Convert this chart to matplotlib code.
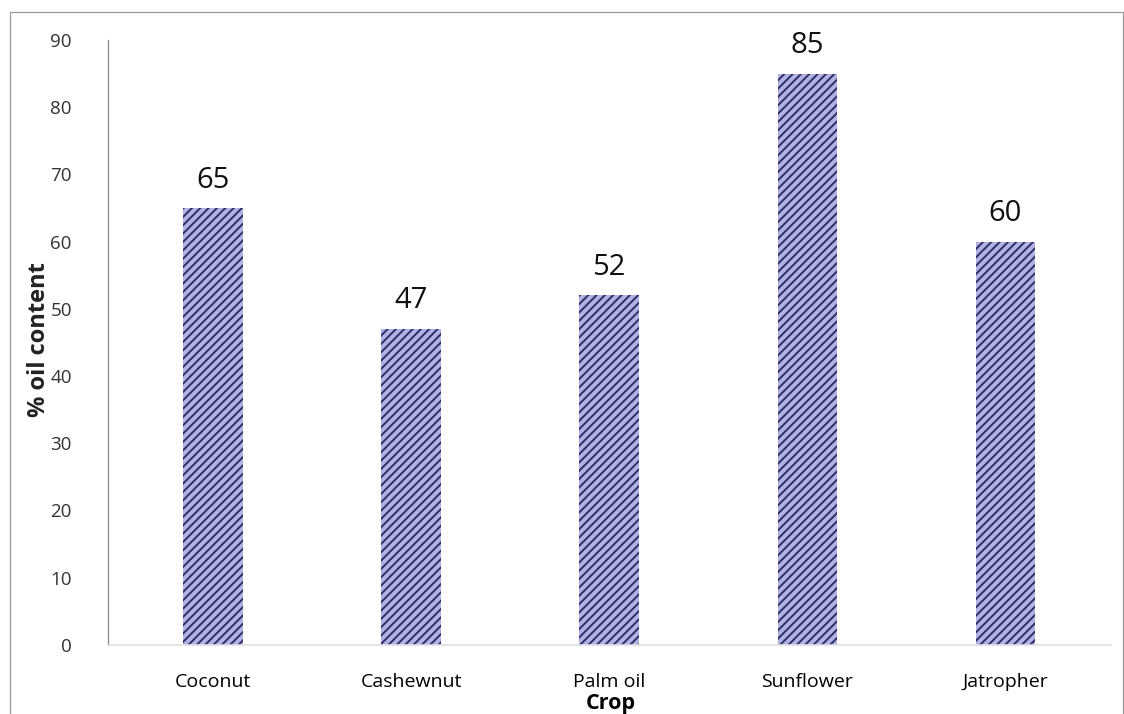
import numpy as np
import matplotlib.pyplot as plt
from matplotlib.patches import Rectangle

crops = ['Coconut', 'Cashewnut', 'Palm oil', 'Sunflower', 'Jatropher']
oil_content = [65, 47, 52, 85, 60]
y_ticks = [0, 10, 20, 30, 40, 50, 60, 70, 80, 90]

plt.rcParams['font.family'] = ['Open Sans', 'DejaVu Sans']
plt.rcParams['hatch.linewidth'] = 1.4


def draw(crops, values):
  fig = plt.figure(figsize=(11.24, 7.14), dpi=100)
  ax = fig.add_axes([0.096, 0.097, 0.892, 0.847])
  x = np.arange(len(crops))
  bars = ax.bar(x, values, width=0.3, color='#b2b2e2', edgecolor='#2c2e6c',
                hatch='////', linewidth=0)
  for b, v in zip(bars, values):
    ax.text(b.get_x() + b.get_width() / 2, v + 2.0, str(v), ha='center',
            va='bottom', fontsize=21, color='#111111')
  ax.set_xlim(-0.53, 4.53)
  ax.set_ylim(0, 90)
  ax.set_xticks(x)
  ax.set_xticklabels(crops, fontsize=14)
  ax.set_yticks(y_ticks)
  ax.set_yticklabels([str(t) for t in y_ticks], fontsize=13.5, color='#333333')
  ax.tick_params(axis='y', length=0, pad=26)
  ax.tick_params(axis='x', length=0, pad=20)
  for s in ['top', 'right']:
    ax.spines[s].set_visible(False)
  ax.spines['left'].set_color('#8a8a8a')
  ax.spines['left'].set_linewidth(0.9)
  ax.spines['bottom'].set_color('#e0e0e0')
  ax.spines['bottom'].set_linewidth(1.2)
  fig.text(0.543, 0.0, 'Crop', ha='center', va='bottom', fontsize=15.5,
           fontweight='bold')
  fig.text(0.035, 0.525, '% oil content', rotation=90, ha='center',
           va='center', fontsize=17, fontweight='bold', color='#222222')
  # thin frame round the whole figure
  fig.patches.append(Rectangle((0.009, -0.01), 0.99, 0.993, transform=fig.transFigure,
                               fill=False, edgecolor='#9a9a9a', linewidth=0.9))
  fig.savefig('out.png', dpi=100)


def main():
  draw(crops, oil_content)


if __name__ == '__main__':
  main()
